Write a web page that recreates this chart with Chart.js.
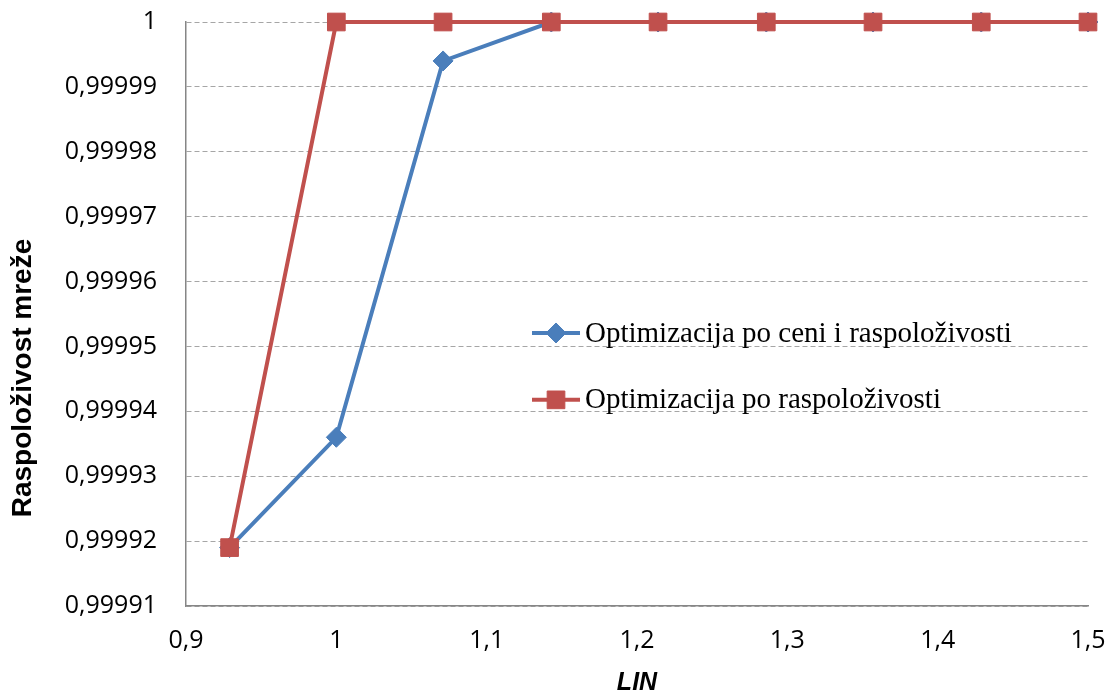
<!DOCTYPE html>
<html>
<head>
<meta charset="utf-8">
<title>Raspoloživost mreže</title>
<script src="https://cdn.jsdelivr.net/npm/chart.js@4"></script>
<style>
  html, body { margin: 0; padding: 0; background: #ffffff; }
  canvas { display: block; }
</style>
</head>
<body>
<canvas id="c" width="1113" height="698"></canvas>
<script>
// LIN values (x) and network availability for the two optimisation variants
const linValues = [0.929, 1.0, 1.071, 1.143, 1.214, 1.286, 1.357, 1.429, 1.5];
const costAndAvailability = [0.999919, 0.999936, 0.999994, 1, 1, 1, 1, 1, 1];
const availabilityOnly = [0.999919, 1, 1, 1, 1, 1, 1, 1, 1];

const seriesNames = ['Optimizacija po ceni i raspoloživosti', 'Optimizacija po raspoloživosti'];
const xTickValues = [0.9, 1.0, 1.1, 1.2, 1.3, 1.4, 1.5];
const yTickValues = [0.99991, 0.99992, 0.99993, 0.99994, 0.99995, 0.99996, 0.99997, 0.99998, 0.99999, 1];
const xTitle = 'LIN';
const yTitle = 'Raspoloživost mreže';

const BLUE = '#4a7ebb';
const RED = '#c0504d';

const toPoints = (ys) => linValues.map((x, i) => ({ x: x, y: ys[i] }));
const commaNum = (v, digits) => {
  const r = Math.round(v * Math.pow(10, digits)) / Math.pow(10, digits);
  return String(r).replace('.', ',');
};

// Vertical axis title, placed a little below the middle of the plot
const yAxisTitle = {
  id: 'yAxisTitle',
  afterDraw(chart) {
    const ctx = chart.ctx;
    const a = chart.chartArea;
    const cy = a.top + 0.6096 * (a.bottom - a.top);
    ctx.save();
    ctx.translate(23, cy);
    ctx.rotate(-Math.PI / 2);
    ctx.font = 'bold 28px "Liberation Sans", Arial, sans-serif';
    ctx.fillStyle = '#000000';
    ctx.textAlign = 'center';
    ctx.textBaseline = 'middle';
    ctx.fillText(yTitle, 0, 0);
    ctx.restore();
  }
};

// Legend drawn inside the plot area, to the right of centre
const innerLegend = {
  id: 'innerLegend',
  afterDraw(chart) {
    const ctx = chart.ctx;
    const a = chart.chartArea;
    const w = a.right - a.left, h = a.bottom - a.top;
    const x0 = a.left + 0.3836 * w;
    const rows = [0.5325, 0.647];
    const order = [1, 0]; // blue row first, red row second
    ctx.save();
    rows.forEach((fy, r) => {
      const ds = chart.data.datasets[order[r]];
      const y = a.top + fy * h;
      ctx.strokeStyle = ds.borderColor;
      ctx.lineWidth = 4;
      ctx.beginPath();
      ctx.moveTo(x0, y);
      ctx.lineTo(x0 + 48, y);
      ctx.stroke();
      ctx.fillStyle = ds.pointBackgroundColor;
      ctx.strokeStyle = ds.pointBorderColor;
      ctx.lineWidth = 1;
      Chart.helpers.drawPoint(ctx, {
        pointStyle: ds.pointStyle,
        radius: ds.pointRadius,
        borderWidth: 1,
        rotation: 0
      }, x0 + 24, y);
      ctx.fillStyle = '#000000';
      ctx.font = '29px "Liberation Serif", serif';
      ctx.textBaseline = 'middle';
      ctx.textAlign = 'left';
      ctx.fillText(ds.label, x0 + 53, y + 1);
    });
    ctx.restore();
  }
};

new Chart(document.getElementById('c'), {
  type: 'line',
  data: {
    datasets: [
      {
        label: seriesNames[1],
        data: toPoints(availabilityOnly),
        borderColor: RED,
        backgroundColor: RED,
        pointBackgroundColor: RED,
        pointBorderColor: RED,
        pointStyle: 'rect',
        pointRadius: 12.5,
        pointHoverRadius: 12.5,
        pointBorderWidth: 1,
        borderWidth: 4,
        tension: 0,
        order: 0,
        clip: false
      },
      {
        label: seriesNames[0],
        data: toPoints(costAndAvailability),
        borderColor: BLUE,
        backgroundColor: BLUE,
        pointBackgroundColor: BLUE,
        pointBorderColor: BLUE,
        pointStyle: 'rectRot',
        pointRadius: 10,
        pointHoverRadius: 10,
        pointBorderWidth: 1,
        borderWidth: 4,
        tension: 0,
        order: 1,
        clip: false
      }
    ]
  },
  options: {
    responsive: false,
    animation: false,
    events: [],
    layout: { padding: { left: 0, right: 25, top: 22, bottom: 0 } },
    plugins: {
      legend: { display: false },
      tooltip: { enabled: false }
    },
    scales: {
      x: {
        type: 'linear',
        min: 0.9,
        max: 1.5,
        afterBuildTicks: (s) => { s.ticks = xTickValues.map(v => ({ value: v })); },
        afterFit: (s) => { s.height = 92; s.paddingLeft = 0; s.paddingRight = 0; },
        grid: { display: false, drawTicks: false },
        border: { display: true, color: '#868686', width: 1.5 },
        ticks: {
          padding: 20,
          color: '#000000',
          font: { family: '"Open Sans", sans-serif', size: 25 },
          callback: (v) => commaNum(v, 1),
          maxRotation: 0,
          autoSkip: false
        },
        title: {
          display: true,
          text: xTitle,
          color: '#000000',
          font: { family: '"Liberation Sans", Arial, sans-serif', size: 25, weight: 'bold', style: 'italic' },
          padding: { top: 0, bottom: 0 }
        }
      },
      y: {
        type: 'linear',
        min: 0.99991,
        max: 1,
        afterBuildTicks: (s) => { s.ticks = yTickValues.map(v => ({ value: v })); },
        afterFit: (s) => { s.width = 186; s.paddingTop = 0; s.paddingBottom = 0; },
        grid: {
          color: '#a6a6a6',
          lineWidth: 1,
          drawTicks: false
        },
        border: { display: true, color: '#868686', width: 1.5, dash: [5, 3] },
        ticks: {
          padding: 29,
          color: '#000000',
          font: { family: '"Open Sans", sans-serif', size: 25 },
          callback: (v) => commaNum(v, 5),
          autoSkip: false
        },
        title: { display: false }
      }
    }
  },
  plugins: [innerLegend, yAxisTitle]
});
</script>
</body>
</html>
